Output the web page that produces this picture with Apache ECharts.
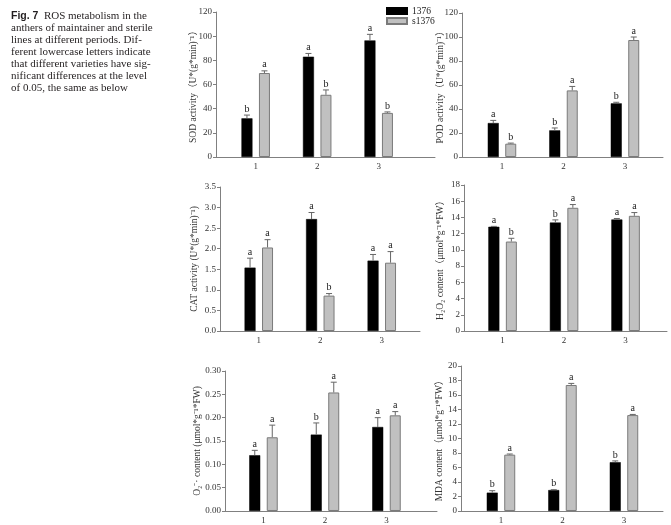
<!DOCTYPE html>
<html>
<head>
<meta charset="utf-8">
<title>Fig. 7 ROS metabolism</title>
<script src="https://cdn.jsdelivr.net/npm/echarts@6/dist/echarts.min.js"></script>
<style>
  html, body { margin: 0; padding: 0; background: #fff; }
  #main { width: 671px; height: 525px; }
</style>
</head>
<body>
<div id="main"></div>
<script>
// 数据
var periods = ['1', '2', '3'];
var seriesNames = ['1376', 's1376'];

var sod1376 = [32, 83, 96.5];
var sodS1376 = [69.5, 51.5, 36.5];
var sodErr1376 = [2.7, 2.7, 5];
var sodErrS1376 = [1.8, 4, 0.8];
var sodLetters1376 = ['b', 'a', 'a'];
var sodLettersS1376 = ['a', 'b', 'b'];
var sodTicks = [0, 20, 40, 60, 80, 100, 120];

var pod1376 = [28.3, 22.2, 44.7];
var podS1376 = [11.1, 55.5, 97.5];
var podErr1376 = [2.2, 2, 0.9];
var podErrS1376 = [0.5, 3.3, 2.5];
var podLetters1376 = ['a', 'b', 'b'];
var podLettersS1376 = ['b', 'a', 'a'];
var podTicks = [0, 20, 40, 60, 80, 100, 120];

var cat1376 = [1.54, 2.72, 1.71];
var catS1376 = [2.03, 0.86, 1.66];
var catErr1376 = [0.23, 0.16, 0.15];
var catErrS1376 = [0.19, 0.05, 0.27];
var catLetters1376 = ['a', 'a', 'a'];
var catLettersS1376 = ['a', 'b', 'a'];
var catTicks = [0, 0.5, 1.0, 1.5, 2.0, 2.5, 3.0, 3.5];

var h2o21376 = [12.85, 13.37, 13.75];
var h2o2S1376 = [11.03, 15.19, 14.2];
var h2o2Err1376 = [0.05, 0.33, 0.12];
var h2o2ErrS1376 = [0.4, 0.4, 0.4];
var h2o2Letters1376 = ['a', 'b', 'a'];
var h2o2LettersS1376 = ['b', 'a', 'a'];
var h2o2Ticks = [0, 2, 4, 6, 8, 10, 12, 14, 16, 18];

var o21376 = [0.1195, 0.1637, 0.18];
var o2S1376 = [0.158, 0.254, 0.205];
var o2Err1376 = [0.0105, 0.025, 0.02];
var o2ErrS1376 = [0.026, 0.022, 0.008];
var o2Letters1376 = ['a', 'b', 'a'];
var o2LettersS1376 = ['a', 'a', 'a'];
var o2Ticks = [0, 0.05, 0.10, 0.15, 0.20, 0.25, 0.30];

var mda1376 = [2.53, 2.89, 6.73];
var mdaS1376 = [7.77, 17.38, 13.23];
var mdaErr1376 = [0.27, 0.05, 0.18];
var mdaErrS1376 = [0.09, 0.22, 0.09];
var mdaLetters1376 = ['b', 'b', 'b'];
var mdaLettersS1376 = ['a', 'a', 'a'];
var mdaTicks = [0, 2, 4, 6, 8, 10, 12, 14, 16, 18, 20];

var serif = 'Liberation Serif, Noto Sans CJK SC, serif';

// 每个小图的位置（像素）
var panels = [
  { name: 'SOD activity（U*(g*min)⁻¹）', a: sod1376, b: sodS1376, ea: sodErr1376, eb: sodErrS1376,
    la: sodLetters1376, lb: sodLettersS1376, ticks: sodTicks, digits: 0,
    left: 216, right: 435, top: 12, bottom: 157, c1: 255.7, gap: 17.5 },
  { name: 'POD activity（U*(g*min)⁻¹）', a: pod1376, b: podS1376, ea: podErr1376, eb: podErrS1376,
    la: podLetters1376, lb: podLettersS1376, ticks: podTicks, digits: 0,
    left: 462, right: 663, top: 13, bottom: 157, c1: 502, gap: 17 },
  { name: 'CAT activity (U*(g*min)⁻¹)', a: cat1376, b: catS1376, ea: catErr1376, eb: catErrS1376,
    la: catLetters1376, lb: catLettersS1376, ticks: catTicks, digits: 1,
    left: 220, right: 420, top: 187, bottom: 331, c1: 258.8, gap: 21 },
  { name: 'H₂O₂ content（μmol*g⁻¹*FW）', a: h2o21376, b: h2o2S1376, ea: h2o2Err1376, eb: h2o2ErrS1376,
    la: h2o2Letters1376, lb: h2o2LettersS1376, ticks: h2o2Ticks, digits: 0,
    left: 464, right: 667, top: 185, bottom: 331, c1: 502.6, gap: 19 },
  { name: 'O₂⁻· content (μmol*g⁻¹*FW)', a: o21376, b: o2S1376, ea: o2Err1376, eb: o2ErrS1376,
    la: o2Letters1376, lb: o2LettersS1376, ticks: o2Ticks, digits: 2,
    left: 225, right: 437, top: 371, bottom: 513, c1: 263.5, gap: 23 },
  { name: 'MDA content（μmol*g⁻¹*FW）', a: mda1376, b: mdaS1376, ea: mdaErr1376, eb: mdaErrS1376,
    la: mdaLetters1376, lb: mdaLettersS1376, ticks: mdaTicks, digits: 0,
    left: 461, right: 663, top: 366, bottom: 513, c1: 501, gap: 17 }
];

var step = 61.5;   // 组间距（像素）
var barW = 11;
var barOffset = 8.75;

var grids = [], xAxes = [], yAxes = [], series = [];

function toPairs(vals) {
  return vals.map(function (v, j) { return [j + 1, v]; });
}

// 误差线 + 显著性字母
function errorSeries(i, vals, errs, letters, dir) {
  return {
    type: 'custom',
    xAxisIndex: i,
    yAxisIndex: i,
    z: 5,
    silent: true,
    encode: { x: 0, y: 1 },
    data: vals.map(function (v, j) { return [j + 1, v, errs[j]]; }),
    renderItem: function (params, api) {
      var x = api.value(0), y = api.value(1), e = api.value(2);
      var base = api.coord([x, y]);
      var top = api.coord([x, y + e]);
      var cx = base[0] + dir * barOffset;
      return {
        type: 'group',
        children: [
          { type: 'line', shape: { x1: cx, y1: base[1], x2: cx, y2: top[1] },
            style: { stroke: '#666', lineWidth: 1 } },
          { type: 'line', shape: { x1: cx - 3, y1: top[1], x2: cx + 3, y2: top[1] },
            style: { stroke: '#666', lineWidth: 1 } },
          { type: 'text', x: cx, y: top[1] - 1,
            style: { text: letters[params.dataIndex], textAlign: 'center', textVerticalAlign: 'bottom',
                     font: '10px ' + serif, fill: '#222' } }
        ]
      };
    }
  };
}

panels.forEach(function (p, i) {
  var w = p.right - p.left;
  var xmin = 1 - (p.c1 - p.left) / step;
  var ticks = p.ticks;

  grids.push({ left: p.left, top: p.top, width: w, height: p.bottom - p.top, containLabel: false });

  xAxes.push({
    type: 'value',
    gridIndex: i,
    min: xmin,
    max: xmin + w / step,
    axisLine: { lineStyle: { color: '#808080', width: 1 } },
    axisTick: { show: false },
    splitLine: { show: false },
    axisLabel: {
      customValues: [1, 2, 3],
      formatter: function (v) { return periods[Math.round(v) - 1]; },
      fontFamily: serif, fontSize: 9, color: '#333', margin: 5
    }
  });

  yAxes.push({
    type: 'value',
    gridIndex: i,
    min: ticks[0],
    max: ticks[ticks.length - 1],
    interval: ticks[1] - ticks[0],
    name: p.name,
    nameLocation: 'middle',
    nameGap: p.gap,
    nameMoveOverlap: false,
    nameTextStyle: { fontFamily: serif, fontSize: 9.5, color: '#333' },
    axisLine: { show: true, lineStyle: { color: '#808080', width: 1 } },
    axisTick: { show: true, length: 3, lineStyle: { color: '#808080' } },
    splitLine: { show: false },
    axisLabel: {
      formatter: function (v) { return v.toFixed(p.digits); },
      fontFamily: serif, fontSize: 9, color: '#333', margin: 4
    }
  });

  series.push({
    name: seriesNames[0], type: 'bar', xAxisIndex: i, yAxisIndex: i,
    barWidth: barW, barGap: '59%',
    itemStyle: { color: '#000', borderColor: '#000', borderWidth: 0.5 },
    data: toPairs(p.a)
  });
  series.push({
    name: seriesNames[1], type: 'bar', xAxisIndex: i, yAxisIndex: i,
    barWidth: barW, barGap: '59%',
    itemStyle: { color: '#c0c0c0', borderColor: '#7a7a7a', borderWidth: 1 },
    data: toPairs(p.b)
  });
  series.push(errorSeries(i, p.a, p.ea, p.la, -1));
  series.push(errorSeries(i, p.b, p.eb, p.lb, 1));
});

var chart = echarts.init(document.getElementById('main'));

var option = {
  animation: false,
  backgroundColor: '#fff',
  // 图注
  title: {
    left: 6,
    top: 5,
    text: '{b|Fig. 7}  ROS metabolism in the\nanthers of maintainer and sterile\nlines at different periods. Dif-\nferent lowercase letters indicate\nthat different varieties have sig-\nnificant differences at the level\nof 0.05, the same as below',
    textStyle: {
      fontFamily: serif, fontSize: 11, fontWeight: 'normal', color: '#231f20', lineHeight: 12,
      rich: {
        b: { fontFamily: 'Liberation Sans, sans-serif', fontWeight: 'bold', fontSize: 10.5, lineHeight: 12, color: '#231f20' }
      }
    }
  },
  legend: {
    data: seriesNames,
    orient: 'vertical',
    icon: 'rect',
    left: 386,
    top: 6,
    padding: 0,
    itemWidth: 20,
    itemHeight: 6,
    itemGap: 0,
    textStyle: { fontFamily: serif, fontSize: 9.5, lineHeight: 10, color: '#222' }
  },
  grid: grids,
  xAxis: xAxes,
  yAxis: yAxes,
  series: series
};

chart.setOption(option);
</script>
</body>
</html>
